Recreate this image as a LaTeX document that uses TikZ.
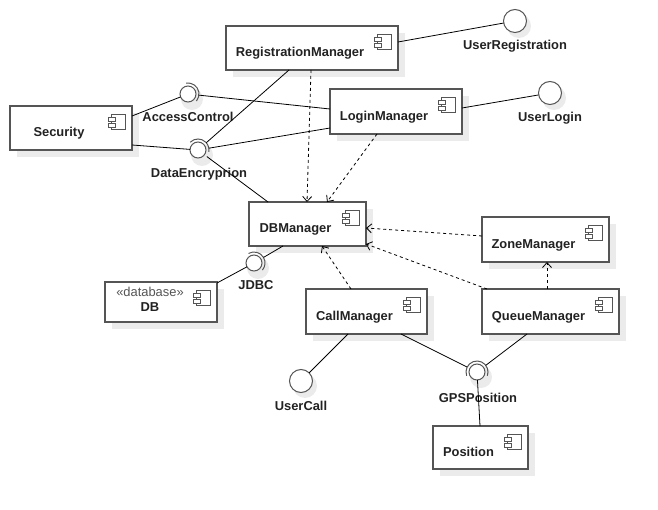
\documentclass[tikz,border=0pt]{standalone}
\usepackage{fontspec}
\setmainfont{Liberation Sans}
\usetikzlibrary{arrows.meta,calc}
\definecolor{shadowc}{HTML}{EBEBEB}
\definecolor{bordc}{HTML}{555555}
\definecolor{txtc}{HTML}{222222}
\pgfdeclarelayer{bg}
\pgfsetlayers{bg,main}
\tikzset{
  compst/.style={rectangle,draw=bordc,line width=1.2pt,fill=white,inner sep=0pt,outer sep=0pt},
  iconst/.style={draw=bordc,line width=0.9pt,fill=white},
  lbl/.style={font=\fontsize{12.9}{15}\selectfont\bfseries,text=txtc,inner sep=0pt,anchor=base},
  stereo/.style={font=\fontsize{12.9}{15}\selectfont,text=bordc,inner sep=0pt,anchor=base},
  ifc/.style={circle,draw=bordc,fill=white,line width=1pt,minimum size=23pt,inner sep=0pt,outer sep=0pt},
  ball/.style={circle,draw=bordc,fill=white,line width=1pt,minimum size=16pt,inner sep=0pt,outer sep=0pt},
  sockn/.style={circle,minimum size=22pt,inner sep=0pt,outer sep=0pt},
  sockarc/.style={draw=bordc,line width=1pt},
  conn/.style={draw=black,line width=0.8pt},
  dep/.style={conn,dash pattern=on 3pt off 3pt,-{Straight Barb[length=5pt,width=9pt]}},
}
\newcommand\compbox[6]{%
  \begin{pgfonlayer}{bg}
    \fill[shadowc] (#2+7,#3+7) rectangle (#4+7,#5+7);
  \end{pgfonlayer}
  \node[compst,minimum width={(#4-#2)*1pt},minimum height={(#5-#3)*1pt}] (#1) at ({(#2+#4)/2},{(#3+#5)/2}) {};
  \draw[iconst] (#4-21,#3+8) rectangle (#4-7,#3+23);
  \draw[iconst] (#4-24,#3+11) rectangle (#4-17,#3+15);
  \draw[iconst] (#4-24,#3+17) rectangle (#4-17,#3+21);
  \node[lbl] at ({(#2+#4-24)/2},{(#3+#5)/2+9}) {#6};
}
\newcommand\circshadow[3]{%
  \begin{pgfonlayer}{bg}
    \fill[shadowc] (#1+4,#2+5) circle[radius=#3pt];
  \end{pgfonlayer}
}
\begin{document}
\begin{tikzpicture}[x=1pt,y=-1pt]
\useasboundingbox (0,0) rectangle (658,510);

% components
\compbox{reg}{226}{26}{398}{70}{RegistrationManager}
\compbox{sec}{10}{106}{132}{150}{Security}
\compbox{login}{330}{89}{462}{134}{LoginManager}
\compbox{dbm}{249}{202}{366}{246}{DBManager}
\compbox{dbase}{105}{282}{217}{322}{}
\compbox{call}{306}{289}{427}{334}{CallManager}
\compbox{queue}{482}{289}{619}{334}{QueueManager}
\compbox{zone}{482}{217}{609}{262}{ZoneManager}
\compbox{pos}{433}{426}{528}{469}{Position}
\node[stereo] at (150,297) {«database»};
\node[lbl] at (150,312) {DB};

% provided interfaces (lollipops)
\circshadow{515}{21}{12}
\node[ifc] (ureg) at (515,21) {};
\circshadow{550}{93}{12}
\node[ifc] (ulogin) at (550,93) {};
\circshadow{301}{381}{12}
\node[ifc] (ucall) at (301,381) {};

% ball-and-socket interfaces
\circshadow{188}{94}{11}
\node[ball] (accB) at (188,94) {};
\node[sockn] (accS) at (188,94) {};
\draw[sockarc] (accS.100) arc[start angle=100,end angle=-40,radius=11pt];

\circshadow{198}{150}{11}
\node[ball] (decB) at (198,150) {};
\node[sockn] (decS) at (198,150) {};
\draw[sockarc] (decS.135) arc[start angle=135,end angle=-10,radius=11pt];

\circshadow{254}{263}{11}
\node[ball] (jdbcB) at (254,263) {};
\node[sockn] (jdbcS) at (254,263) {};
\draw[sockarc] (jdbcS.120) arc[start angle=120,end angle=-40,radius=11pt];

\circshadow{477}{372}{11}
\node[ball] (gpsB) at (477,372) {};
\node[sockn] (gpsS) at (477,372) {};
\draw[sockarc] (gpsS.200) arc[start angle=200,end angle=-20,radius=11pt];

% labels
\node[lbl] at (515,50) {UserRegistration};
\node[lbl] at (550,122) {UserLogin};
\node[lbl] at (188,122) {AccessControl};
\node[lbl] at (199,178) {DataEncryprion};
\node[lbl] at (256,290) {JDBC};
\node[lbl] at (301,410) {UserCall};
\node[lbl] at (478,402) {GPSPosition};

% connectors
\draw[conn] ($(reg.north east)+(0,16)$) -- (ureg);
\draw[conn] ($(login.north east)+(0,19)$) -- (ulogin);
\draw[conn] ($(sec.north east)+(0,10)$) -- (accB);
\draw[conn] (accS) -- ($(login.north west)+(0,20)$);
\draw[conn] ($(sec.north east)+(0,39)$) -- (decB);
\draw[conn] (decS) -- ($(login.north west)+(0,39)$);
\draw[conn] ($(reg.south west)+(63,0)$) -- (decS);
\draw[conn] (decS) -- ($(dbm.north west)+(19,0)$);
\draw[dep] ($(reg.south west)+(85,0)$) -- ($(dbm.north west)+(58,0)$);
\draw[dep] ($(login.south west)+(47,0)$) -- ($(dbm.north west)+(78,0)$);
\draw[dep] ($(zone.north west)+(0,19)$) -- ($(dbm.north east)+(0,26)$);
\draw[dep] ($(queue.north west)+(5,0)$) -- ($(dbm.south east)+(0,-2)$);
\draw[dep] ($(queue.north west)+(65,0)$) -- ($(zone.south west)+(65,0)$);
\draw[dep] ($(call.north west)+(45,0)$) -- ($(dbm.south west)+(73,0)$);
\draw[conn] ($(dbm.south west)+(34,0)$) -- (jdbcS);
\draw[conn] (jdbcB) -- ($(dbase.north east)+(0,1)$);
\draw[conn] ($(call.south west)+(42,0)$) -- (ucall);
\draw[conn] ($(call.south west)+(95,0)$) -- (gpsS);
\draw[conn] ($(queue.south west)+(45,0)$) -- (gpsS);
\draw[conn] ($(pos.north west)+(47,0)$) -- (gpsB);
\end{tikzpicture}
\end{document}
